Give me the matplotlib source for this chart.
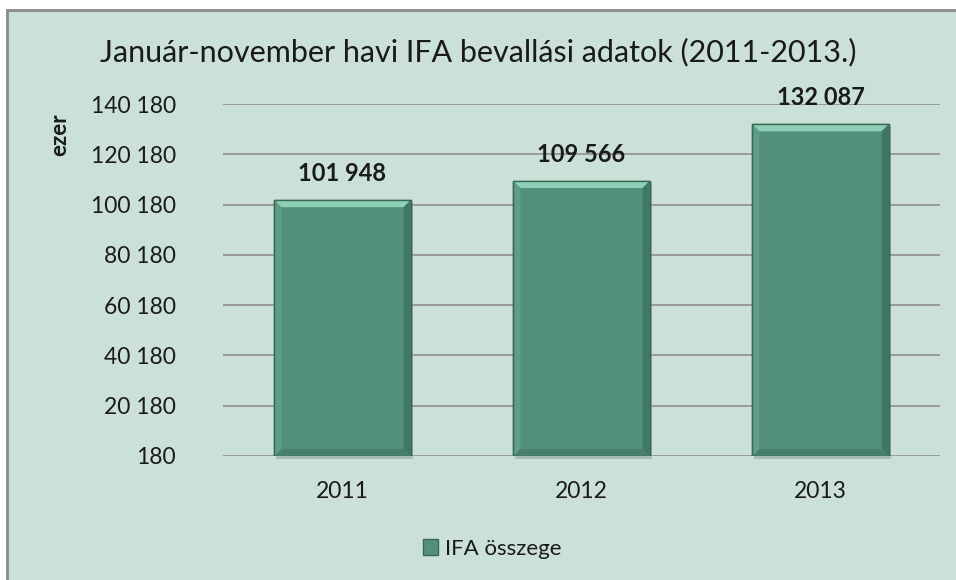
import matplotlib
matplotlib.use("Agg")
import matplotlib.pyplot as plt
from matplotlib.patches import Rectangle, Polygon, Patch

plt.rcParams['font.family'] = ['Lato', 'DejaVu Sans']

years = ['2011', '2012', '2013']
ifa_values = [101948, 109566, 132087]
y_ticks = [180, 20180, 40180, 60180, 80180, 100180, 120180, 140180]

title = 'Január-november havi IFA bevallási adatok (2011-2013.)'
y_label = 'ezer'
series_name = 'IFA összege'

BG = '#CBE1D8'
FACE = '#53907B'
TOP = '#8DD0B5'
LEFT = '#64A38B'
RIGHT = '#3C7261'
BOTTOM = '#467D69'
EDGE = '#3A6656'


def fmt(v):
    return f'{v:,}'.replace(',', ' ')


fig = plt.figure(figsize=(9.56, 5.8), dpi=100, facecolor='white')
W, H = 956, 580

# chart frame (runs off the right and bottom edge)
frame = Rectangle((7 / W, -0.1), 1.2, 1 - 10 / H + 0.1, transform=fig.transFigure,
                  facecolor=BG, edgecolor='#8A8A8A', lw=2, zorder=-1)
fig.patches.append(frame)

ax = fig.add_axes([223 / W, 1 - 456 / H, 717 / W, 352 / H])
ax.set_facecolor('none')
for s in ax.spines.values():
    s.set_visible(False)

y0 = y_ticks[0]
ax.set_ylim(y0, y_ticks[-1])
ax.set_xlim(-0.5, len(years) - 0.5)
ax.set_yticks(y_ticks)
ax.set_yticklabels([fmt(t) for t in y_ticks], fontsize=16.5, color='#1a1a1a')
ax.set_xticks(range(len(years)))
ax.set_xticklabels(years, fontsize=16.5, color='#1a1a1a')
ax.tick_params(axis='y', length=0, pad=34)
ax.tick_params(axis='x', length=0, pad=18)
ax.yaxis.grid(True, color='#8E8E8E', lw=1.2)
ax.set_axisbelow(True)

# pixel -> data scale for the bevel edges
xpp = (len(years)) / (ax.get_position().width * W)
ypp = (y_ticks[-1] - y_ticks[0]) / (ax.get_position().height * H)
b = 7
bx, by = b * xpp, b * ypp

bar_w = 0.57
for i, v in enumerate(ifa_values):
    l, r = i - bar_w / 2, i + bar_w / 2
    t, bt = v, y0
    # soft shadow
    ax.add_patch(Rectangle((l + 2 * xpp, bt - 3 * ypp), bar_w, v - y0, facecolor='#7f8f88',
                           alpha=0.45, lw=0, zorder=2, clip_on=False))
    ax.add_patch(Rectangle((l, bt), bar_w, v - y0, facecolor=FACE, edgecolor=EDGE, lw=1, zorder=3))
    ax.add_patch(Polygon([(l, t), (r, t), (r - bx, t - by), (l + bx, t - by)],
                         facecolor=TOP, lw=0, zorder=4))
    ax.add_patch(Polygon([(l, t), (l + bx, t - by), (l + bx, bt + by), (l, bt)],
                         facecolor=LEFT, lw=0, zorder=4, alpha=0.7))
    ax.add_patch(Polygon([(r, t), (r - bx, t - by), (r - bx, bt + by), (r, bt)],
                         facecolor=RIGHT, lw=0, zorder=4, alpha=0.8))
    ax.add_patch(Polygon([(l, bt), (r, bt), (r - bx, bt + by), (l + bx, bt + by)],
                         facecolor=BOTTOM, lw=0, zorder=4, alpha=0.8))
    ax.add_patch(Rectangle((l, bt), bar_w, v - y0, facecolor='none', edgecolor=EDGE, lw=1, zorder=5))
    ax.annotate(fmt(v), (i, v), xytext=(0, 11), textcoords='offset points',
                ha='center', va='bottom', fontsize=17, fontweight='bold', color='#1a1a1a')

fig.text(0.5, 1 - 52 / H, title, ha='center', va='center', fontsize=22, color='#1a1a1a')
fig.text(60 / W, 1 - 135 / H, y_label, rotation=90, ha='center', va='center',
         fontsize=16, fontweight='bold', color='#1a1a1a')

handle = Patch(facecolor=FACE, edgecolor=EDGE, lw=1)
fig.legend([handle], [series_name], loc='center', bbox_to_anchor=(492 / W, 1 - 549 / H),
           frameon=False, fontsize=16, handlelength=0.7, handleheight=0.7, handletextpad=0.3,
           labelcolor='#1a1a1a')

fig.savefig('out.png', dpi=100, facecolor='white')
